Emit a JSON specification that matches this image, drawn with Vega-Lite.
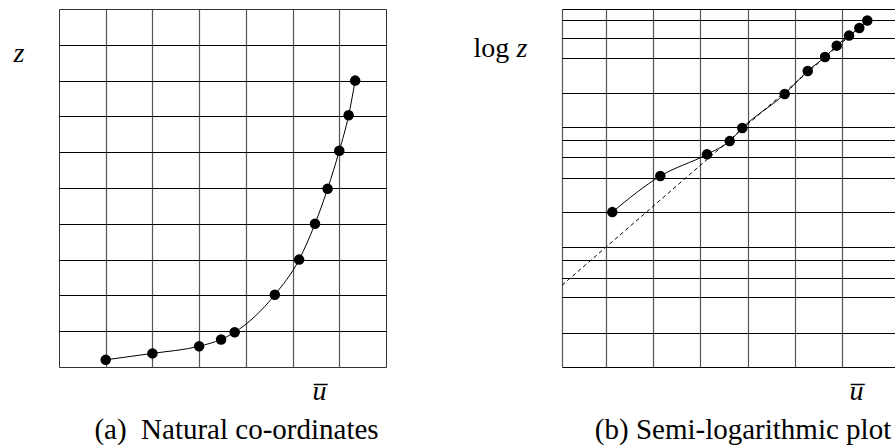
{
  "$schema": "https://vega.github.io/schema/vega-lite/v6.json",
  "padding": {"left": 12, "top": 8, "right": 0, "bottom": 0},
  "background": "white",
  "spacing": 176,
  "bounds": "flush",
  "config": {
    "font": "Liberation Serif",
    "title": {"font": "Liberation Serif", "fontSize": 29, "fontWeight": "normal", "color": "black", "orient": "bottom", "anchor": "middle"},
    "axis": {"domain": false, "ticks": false, "labels": false, "titleFont": "Liberation Serif", "titleFontSize": 28, "titleFontWeight": "normal", "titleColor": "black", "titleAngle": 0}
  },
  "datasets": {
    "left": [
      {"u": 1.0, "z": 0.2},
      {"u": 2.0, "z": 0.38},
      {"u": 3.0, "z": 0.58},
      {"u": 3.47, "z": 0.77},
      {"u": 3.76, "z": 0.97},
      {"u": 4.62, "z": 2.02},
      {"u": 5.14, "z": 3.0},
      {"u": 5.48, "z": 4.0},
      {"u": 5.75, "z": 4.98},
      {"u": 6.0, "z": 6.04},
      {"u": 6.2, "z": 7.03},
      {"u": 6.34, "z": 8.0}
    ],
    "right": [
      {"u": 1.134, "logz": 1.298},
      {"u": 2.151, "logz": 1.6},
      {"u": 3.14, "logz": 1.782},
      {"u": 3.621, "logz": 1.893},
      {"u": 3.888, "logz": 2.003},
      {"u": 4.786, "logz": 2.288},
      {"u": 5.274, "logz": 2.481},
      {"u": 5.64, "logz": 2.598},
      {"u": 5.888, "logz": 2.693},
      {"u": 6.149, "logz": 2.777},
      {"u": 6.367, "logz": 2.841},
      {"u": 6.536, "logz": 2.903}
    ],
    "asymptote": [
      {"u": 0.068, "logz": 0.685},
      {"u": 6.536, "logz": 2.903}
    ]
  },
  "hconcat": [
    {
      "width": 327,
      "height": 358,
      "view": {"stroke": "#333", "strokeWidth": 1},
      "title": {"text": "(a)\u00a0 Natural co-ordinates", "offset": 11, "dx": 14},
      "data": {"name": "left"},
      "mark": {"type": "line", "interpolate": "monotone", "color": "black", "strokeWidth": 1, "point": {"filled": true, "size": 110, "color": "black", "opacity": 1}},
      "encoding": {
        "x": {"field": "u", "type": "quantitative", "scale": {"domain": [0, 7], "nice": false, "zero": false},
          "axis": {"grid": true, "values": [1, 2, 3, 4, 5, 6], "gridColor": "#555", "gridWidth": 1.2, "gridOpacity": 1,
            "title": "u\u0305", "titleFontStyle": "italic", "titleX": 260, "titleY": 32, "titleAlign": "center", "titleBaseline": "alphabetic"}},
        "y": {"field": "z", "type": "quantitative", "scale": {"domain": [0, 10], "nice": false, "zero": false},
          "axis": {"grid": true, "values": [1, 2, 3, 4, 5, 6, 7, 8, 9], "gridColor": "black", "gridWidth": 1, "gridOpacity": 1,
            "title": "z", "titleFontStyle": "italic", "titleX": -46, "titleY": 52, "titleAlign": "left", "titleBaseline": "alphabetic"}}
      }
    },
    {
      "width": 334,
      "height": 358,
      "view": {"stroke": null},
      "title": {"text": "(b) Semi-logarithmic plot", "offset": 11, "dx": 14},
      "encoding": {
        "x": {"field": "u", "type": "quantitative", "scale": {"domain": [0.068, 7.144], "nice": false, "zero": false},
          "axis": {"grid": true, "values": [0.068, 1, 2, 3, 4, 5, 6], "gridColor": "#555", "gridWidth": 1.2, "gridOpacity": 1,
            "title": "u\u0305", "titleFontStyle": "italic", "titleX": 294, "titleY": 32, "titleAlign": "center", "titleBaseline": "alphabetic"}}
      },
      "layer": [
        {
          "data": {"name": "asymptote"},
          "mark": {"type": "line", "color": "black", "strokeWidth": 1, "strokeDash": [4, 3]},
          "encoding": {
            "y": {"field": "logz", "type": "quantitative", "scale": {"domain": [0, 3], "nice": false, "zero": false},
              "axis": {"orient": "left", "grid": true, "values": [0, 0.289, 0.585, 0.75, 0.898, 1.007, 1.295, 1.586, 1.759, 1.899, 2.013, 2.299, 2.592, 2.76, 2.906, 3.0],
                "gridColor": "black", "gridWidth": 1, "gridOpacity": 1,
                "title": "log", "titleX": -89, "titleY": 47, "titleAlign": "left", "titleBaseline": "alphabetic"}}
          }
        },
        {
          "data": {"name": "right"},
          "mark": {"type": "line", "interpolate": "monotone", "color": "black", "strokeWidth": 1, "point": {"filled": true, "size": 110, "color": "black", "opacity": 1}},
          "encoding": {
            "y": {"field": "logz", "type": "quantitative", "scale": {"domain": [0, 3], "nice": false, "zero": false},
              "axis": {"orient": "right", "grid": false, "title": "z", "titleFontStyle": "italic", "titleX": -380, "titleY": 47, "titleAlign": "left", "titleBaseline": "alphabetic"}}
          }
        }
      ],
      "resolve": {"scale": {"y": "independent"}, "axis": {"y": "independent"}}
    }
  ]
}
